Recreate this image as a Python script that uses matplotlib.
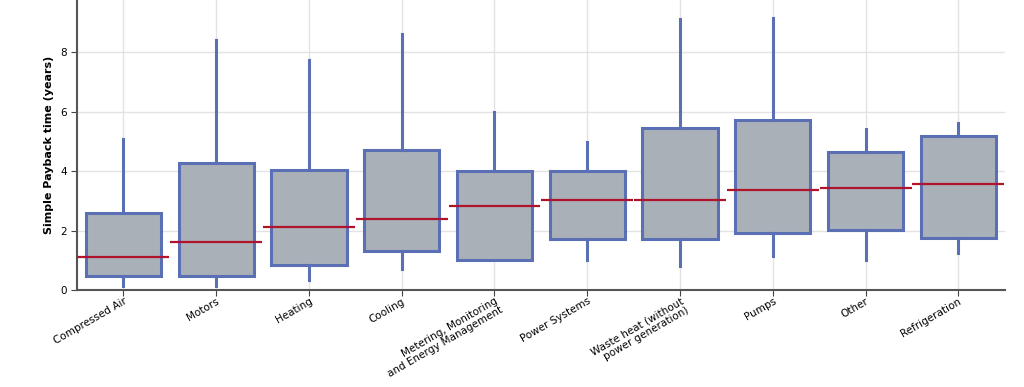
import matplotlib
matplotlib.use("Agg")
import matplotlib.pyplot as plt

categories = ["Compressed Air", "Motors", "Heating", "Cooling",
              "Metering, Monitoring\nand Energy Management", "Power Systems",
              "Waste heat (without\npower generation)", "Pumps", "Other", "Refrigeration"]
whis_lo = [0.15, 0.15, 0.34, 0.70, 1.00, 1.00, 0.82, 1.13, 1.00, 1.24]
q1 = [0.47, 0.47, 0.84, 1.31, 1.00, 1.72, 1.72, 1.92, 2.02, 1.76]
median = [1.10, 1.63, 2.12, 2.38, 2.82, 3.02, 3.02, 3.35, 3.42, 3.55]
q3 = [2.60, 4.27, 4.03, 4.70, 4.00, 4.00, 5.45, 5.70, 4.65, 5.17]
whis_hi = [5.07, 8.40, 7.73, 8.60, 6.00, 4.97, 9.10, 9.13, 5.40, 5.60]

edge = "#5a6fb4"
face = "#aab0b8"
red = "#b0142c"

fig = plt.figure(figsize=(10.24, 3.87), dpi=100)
ax = fig.add_axes([0.0752, 0.2506, 0.906, 0.7494])

stats = []
for i in range(len(categories)):
    stats.append({"med": median[i], "q1": q1[i], "q3": q3[i],
                  "whislo": whis_lo[i], "whishi": whis_hi[i], "fliers": []})

pos = list(range(len(categories)))
ax.bxp(stats, positions=pos, widths=0.81, showcaps=False, showfliers=False,
       patch_artist=True,
       boxprops=dict(facecolor=face, edgecolor=edge, linewidth=2.2),
       whiskerprops=dict(color=edge, linewidth=2.2),
       medianprops=dict(linewidth=0))
ax.hlines(median, [p - 0.495 for p in pos], [p + 0.495 for p in pos],
          colors=red, linewidth=1.6, zorder=5)

ax.set_xlim(-0.5, 9.5)
ax.set_ylim(0, 9.75)
ax.set_yticks([0, 2, 4, 6, 8])
ax.set_xticks(pos)
ax.set_xticklabels(categories, rotation=30, ha="right", rotation_mode="anchor",
                   fontsize=7.5, linespacing=1.0)
ax.tick_params(axis="y", labelsize=7.5, length=4, color="#444444")
ax.tick_params(axis="x", length=4, pad=0.5, color="#444444")
ax.grid(True, color="#e3e3e3", linewidth=1)
ax.set_axisbelow(True)
ax.set_ylabel("Simple Payback time (years)", fontsize=8, fontweight="bold")
for s in ["top", "right"]:
    ax.spines[s].set_visible(False)
for s in ["left", "bottom"]:
    ax.spines[s].set_color("#555555")
    ax.spines[s].set_linewidth(1.5)

fig.savefig("out.png", dpi=100)
